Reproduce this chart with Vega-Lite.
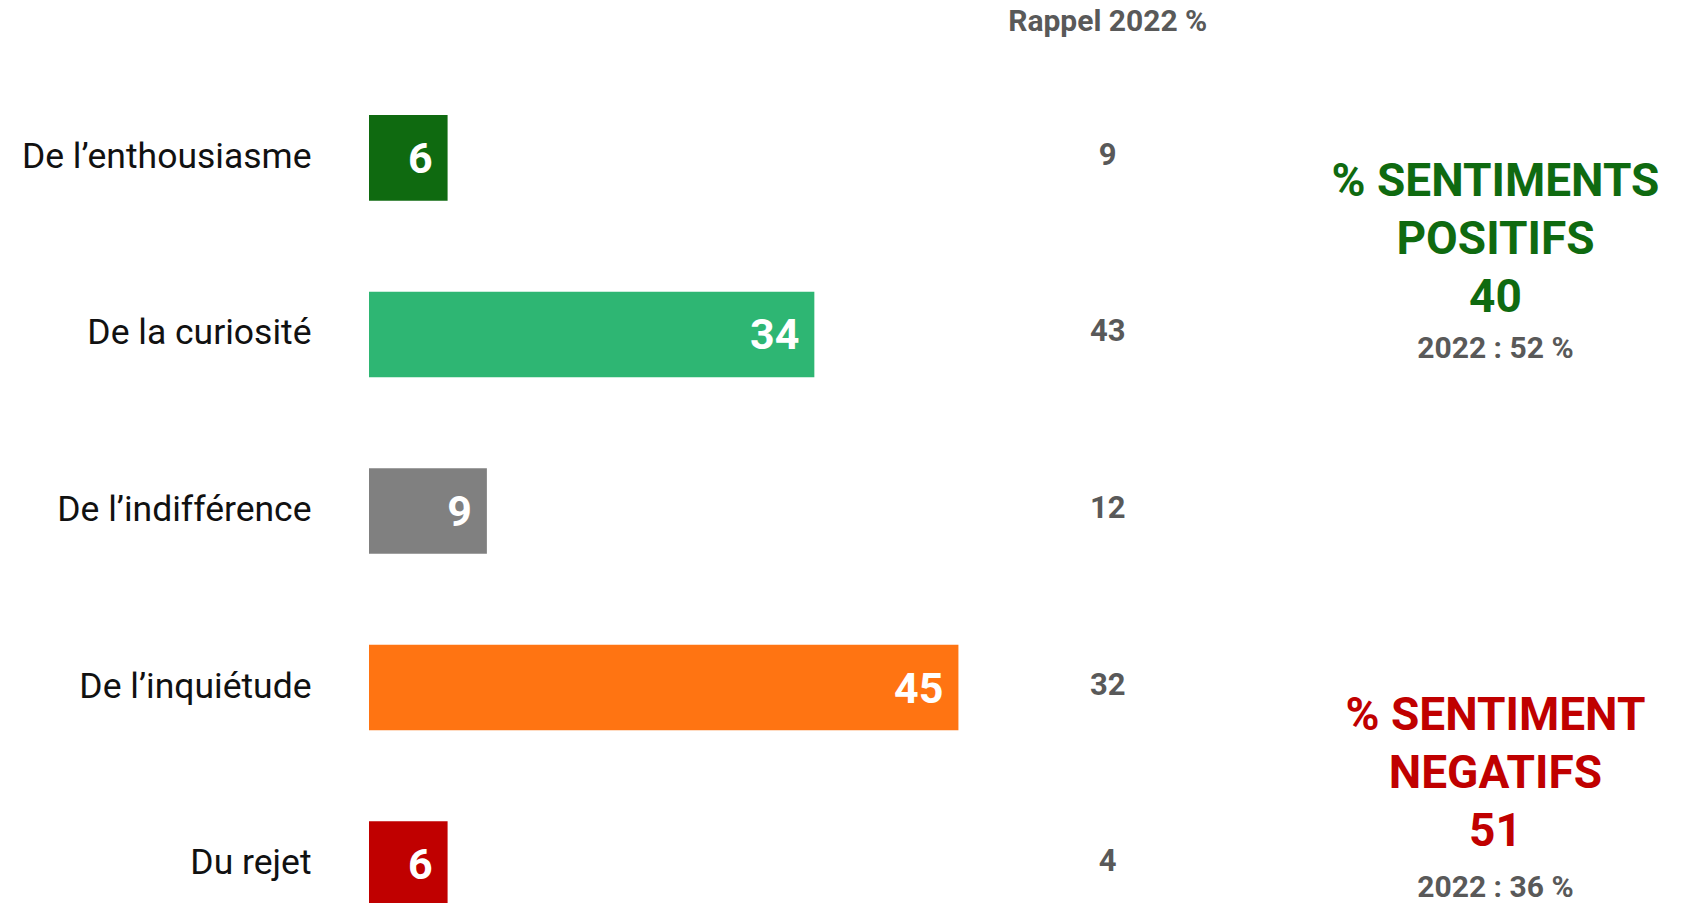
{
  "$schema": "https://vega.github.io/schema/vega-lite/v6.json",
  "autosize": {"type": "none"},
  "padding": {"left": 369, "top": 0, "right": 0, "bottom": 0},
  "width": 1319,
  "height": 903,
  "background": "white",
  "config": {"view": {"stroke": null}, "font": "Roboto"},
  "datasets": {
    "rows": [
      {"cat": "De l’enthousiasme", "val": 6, "rappel": 9, "grp": "enth"},
      {"cat": "De la curiosité", "val": 34, "rappel": 43, "grp": "cur"},
      {"cat": "De l’indifférence", "val": 9, "rappel": 12, "grp": "ind"},
      {"cat": "De l’inquiétude", "val": 45, "rappel": 32, "grp": "inq"},
      {"cat": "Du rejet", "val": 6, "rappel": 4, "grp": "rej"}
    ],
    "header": [{"cat": "De l’enthousiasme", "label": "Rappel 2022 %"}],
    "pos": [{"cat": "De l’enthousiasme", "title": ["% SENTIMENTS", "POSITIFS", "40"]}],
    "possub": [{"cat": "De la curiosité", "sub": "2022 : 52 %"}],
    "neg": [{"cat": "De l’inquiétude", "title": ["% SENTIMENT", "NEGATIFS", "51"]}],
    "negsub": [{"cat": "Du rejet", "sub": "2022 : 36 %"}]
  },
  "encoding": {
    "y": {
      "field": "cat",
      "type": "nominal",
      "sort": null,
      "scale": {
        "domain": ["De l’enthousiasme", "De la curiosité", "De l’indifférence", "De l’inquiétude", "Du rejet"],
        "range": [0, 1022],
        "paddingInner": 0.515,
        "paddingOuter": 0.652
      },
      "axis": {
        "title": null,
        "domain": false,
        "ticks": false,
        "grid": false,
        "labelPadding": 58,
        "labelFontSize": 35.5,
        "labelColor": "#111111",
        "labelFont": "Roboto",
        "labelOffset": -1,
        "labelFontWeight": "normal",
        "labelLimit": 400
      }
    }
  },
  "layer": [
    {
      "data": {"name": "rows"},
      "mark": {"type": "bar"},
      "encoding": {
        "x": {"field": "val", "type": "quantitative", "scale": {"domain": [0, 100.7], "nice": false}, "axis": null},
        "color": {
          "field": "grp",
          "type": "nominal",
          "scale": {
            "domain": ["enth", "cur", "ind", "inq", "rej"],
            "range": ["#0f6a10", "#2eb673", "#808080", "#ff7412", "#c00000"]
          },
          "legend": null
        }
      }
    },
    {
      "data": {"name": "rows"},
      "mark": {"type": "text", "align": "right", "baseline": "middle", "dx": -15, "dy": 2, "fontSize": 43, "fontWeight": "bold", "color": "white"},
      "encoding": {
        "x": {"field": "val", "type": "quantitative"},
        "text": {"field": "val", "type": "quantitative"}
      }
    },
    {
      "data": {"name": "rows"},
      "mark": {"type": "text", "align": "center", "baseline": "middle", "dy": -2, "fontSize": 31, "fontWeight": "bold", "color": "#595959"},
      "encoding": {
        "x": {"datum": 56.4, "type": "quantitative"},
        "text": {"field": "rappel", "type": "quantitative"}
      }
    },
    {
      "data": {"name": "header"},
      "mark": {"type": "text", "align": "center", "baseline": "middle", "dy": -136, "fontSize": 30, "fontWeight": "bold", "color": "#595959"},
      "encoding": {
        "x": {"datum": 56.4, "type": "quantitative"},
        "text": {"field": "label"}
      }
    },
    {
      "data": {"name": "pos"},
      "mark": {"type": "text", "align": "center", "baseline": "top", "dy": 2, "lineHeight": 58, "fontSize": 46, "fontWeight": "bold", "color": "#0f6a10"},
      "encoding": {
        "x": {"datum": 86.0, "type": "quantitative"},
        "text": {"field": "title"}
      }
    },
    {
      "data": {"name": "possub"},
      "mark": {"type": "text", "align": "center", "baseline": "middle", "dy": 15, "fontSize": 30, "fontWeight": "bold", "color": "#595959"},
      "encoding": {
        "x": {"datum": 86.0, "type": "quantitative"},
        "text": {"field": "sub"}
      }
    },
    {
      "data": {"name": "neg"},
      "mark": {"type": "text", "align": "center", "baseline": "top", "dy": 6, "lineHeight": 58, "fontSize": 46, "fontWeight": "bold", "color": "#c00000"},
      "encoding": {
        "x": {"datum": 86.0, "type": "quantitative"},
        "text": {"field": "title"}
      }
    },
    {
      "data": {"name": "negsub"},
      "mark": {"type": "text", "align": "center", "baseline": "middle", "dy": 24, "fontSize": 30, "fontWeight": "bold", "color": "#595959"},
      "encoding": {
        "x": {"datum": 86.0, "type": "quantitative"},
        "text": {"field": "sub"}
      }
    }
  ]
}
